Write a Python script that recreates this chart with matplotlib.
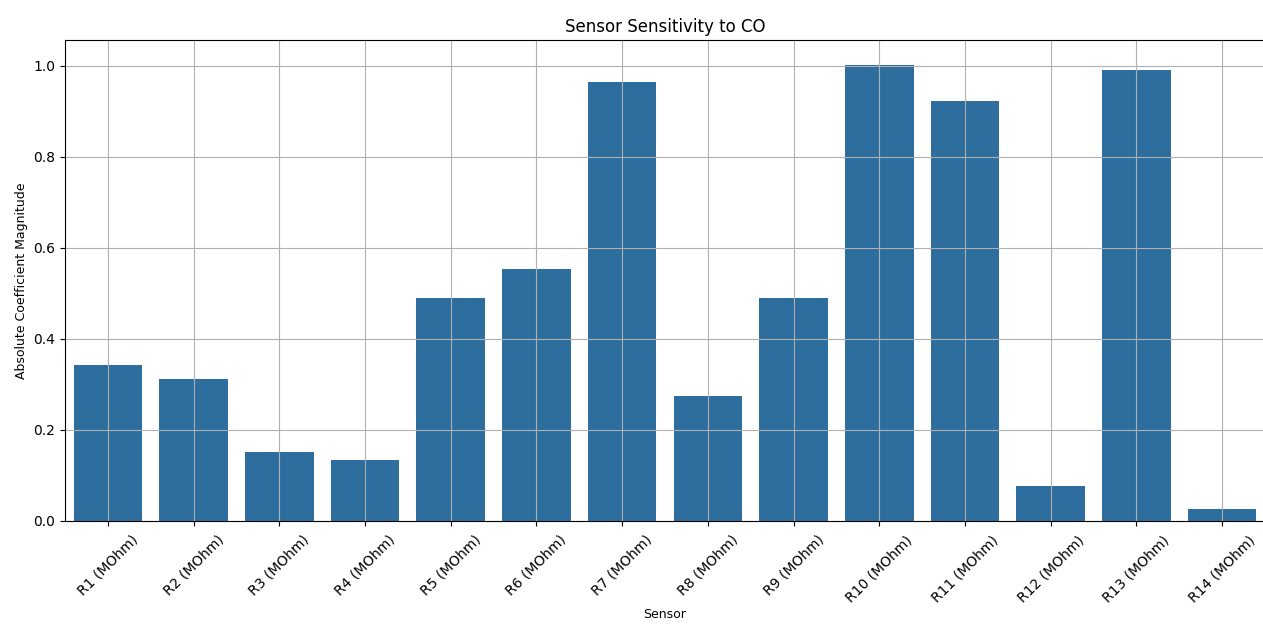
import numpy as np
import matplotlib
matplotlib.use('Agg')
import matplotlib.pyplot as plt

sensors = ["R%d (MOhm)" % i for i in range(1, 15)]
coef_abs = [0.343, 0.312, 0.151, 0.133, 0.490, 0.554, 0.964,
            0.275, 0.490, 1.002, 0.922, 0.077, 0.991, 0.026]

fig = plt.figure(figsize=(12.63, 6.28), dpi=100)
ax = fig.add_axes([65 / 1263, (628 - 521) / 628, 1200 / 1263, 481 / 628])

x = np.arange(len(sensors))
ax.bar(x, coef_abs, width=0.8, color='#2d6e9f')
ax.set_xlim(-0.5, len(sensors) - 0.5)
ax.set_ylim(0, max(coef_abs) * 1.055)
ax.set_xticks(x)
ax.set_xticklabels(sensors, rotation=45)
ax.set_yticks(np.arange(0, 1.01, 0.2))

ax.set_title("Sensor Sensitivity to CO", fontsize=12)
ax.set_xlabel("Sensor", fontsize=9, labelpad=2)
ax.set_ylabel("Absolute Coefficient Magnitude", fontsize=9)
ax.tick_params(axis='both', labelsize=10)
ax.tick_params(axis='x', pad=5)
ax.grid(True)

fig.savefig("out.png", dpi=100)
